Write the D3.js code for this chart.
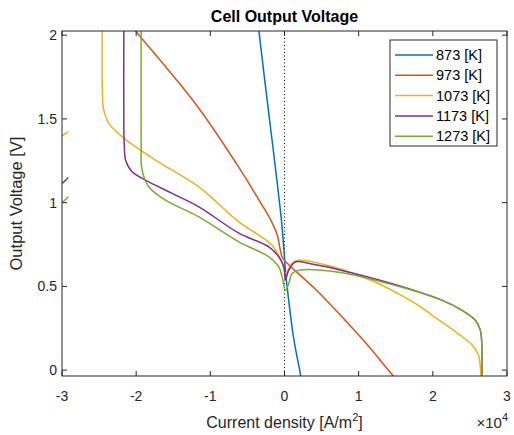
<!DOCTYPE html>
<html>
<head>
<meta charset="utf-8">
<script src="https://cdn.jsdelivr.net/npm/d3@7"></script>
<style>
  html, body { margin: 0; padding: 0; background: #fff; }
  svg { display: block; font-family: 'Liberation Sans', Arial, Helvetica, sans-serif; }
</style>
</head>
<body>
<div id="chart"></div>
<script>
// legend labels + MATLAB default line colours
const temps = ['873 [K]', '973 [K]', '1073 [K]', '1173 [K]', '1273 [K]']
const colors = ['#0072BD', '#D95319', '#EDB120', '#7E2F8E', '#77AC30']

// [current density A/m2, voltage V]
const c873 = [
  [-3600, 2.08], [-3460, 2.03], [-2500, 1.67], [-1500, 1.31], [-800, 1.05], [-400, 0.89],
  [-150, 0.76], [0, 0.67], [150, 0.58], [400, 0.48], [800, 0.33], [1200, 0.2],
  [1600, 0.1], [2050, 0], [2250, -0.06],
]
const c973 = [
  [-20600, 2.06], [-20080, 2.026], [-16000, 1.81], [-11550, 1.564], [-6000, 1.2], [-3500, 1.02],
  [-1850, 0.896], [-1000, 0.81], [-360, 0.68], [0, 0.655], [1660, 0.585], [4000, 0.49],
  [7300, 0.34], [11000, 0.16], [14700, -0.036], [15600, -0.08],
]
const c1073 = [
  [-24600, 2.06], [-24590, 1.9], [-24560, 1.67], [-24400, 1.56], [-23680, 1.473], [-21890, 1.393],
  [-17390, 1.254], [-11550, 1.094], [-6160, 0.885], [-1670, 0.746], [-320, 0.64], [130, 0.58],
  [1020, 0.637], [1930, 0.657], [4500, 0.64], [7320, 0.607], [10000, 0.565], [13000, 0.51],
  [16000, 0.44], [18100, 0.385], [20800, 0.3], [23500, 0.215], [25300, 0.15], [26150, 0.09],
  [26400, 0.02], [26500, -0.06],
]
const c1173 = [
  [-21660, 2.06], [-21660, 1.433], [-21590, 1.331], [-21430, 1.254], [-20540, 1.184], [-18290, 1.124],
  [-15150, 1.055], [-11550, 0.975], [-6160, 0.818], [-2120, 0.736], [-770, 0.677], [-90, 0.617],
  [130, 0.54], [580, 0.597], [1480, 0.647], [3500, 0.635], [7320, 0.6], [15000, 0.51],
  [21200, 0.418], [23900, 0.358], [25700, 0.299], [26400, 0.239], [26600, 0.159], [26630, 0],
  [26630, -0.06],
]
const c1273 = [
  [-19330, 2.06], [-19330, 1.313], [-19300, 1.224], [-18960, 1.154], [-18290, 1.094], [-16040, 1.015],
  [-11550, 0.915], [-6160, 0.766], [-2120, 0.677], [-770, 0.617], [-320, 0.557], [130, 0.475],
  [580, 0.518], [1020, 0.577], [1930, 0.597], [7320, 0.585], [15000, 0.505], [21200, 0.418],
  [23900, 0.358], [25700, 0.299], [26400, 0.239], [26600, 0.159], [26630, 0], [26630, -0.06],
]
// short second branches visible at the left edge
const b1073 = [[-30000, 1.4], [-29600, 1.41], [-29150, 1.425]]
const b1173 = [[-30000, 1.115], [-29600, 1.13], [-29150, 1.15]]
const b1273 = [[-30000, 1.0], [-29600, 1.016], [-29150, 1.035]]

const xTicks = [-30000, -20000, -10000, 0, 10000, 20000, 30000]
const yTicks = [0, 0.5, 1, 1.5, 2]

const series = [
  { pts: c873, color: colors[0] },
  { pts: c973, color: colors[1] },
  { pts: c1073, color: colors[2] },
  { pts: b1073, color: colors[2] },
  { pts: c1173, color: colors[3] },
  { pts: b1173, color: colors[3] },
  { pts: c1273, color: colors[4] },
  { pts: b1273, color: colors[4] },
]

const width = 514
const height = 435
const plot = { left: 62, right: 507, top: 31, bottom: 376 }
const axisColor = '#262626'

const x = d3.scaleLinear().domain([-30000, 30000]).range([plot.left, plot.right])
const y = d3.scaleLinear().domain([-0.035, 2.025]).range([plot.bottom, plot.top])

const svg = d3.select('#chart').append('svg')
  .attr('width', width)
  .attr('height', height)

svg.append('defs').append('clipPath').attr('id', 'clip')
  .append('rect')
  .attr('x', plot.left).attr('y', plot.top)
  .attr('width', plot.right - plot.left).attr('height', plot.bottom - plot.top)

const g = svg.append('g').attr('clip-path', 'url(#clip)')

// dotted zero-current line
g.append('line')
  .attr('x1', x(0)).attr('x2', x(0))
  .attr('y1', plot.top).attr('y2', plot.bottom)
  .attr('stroke', '#000')
  .attr('stroke-width', 1)
  .attr('stroke-dasharray', '1,2.5')

const line = d3.line()
  .x((d) => x(d[0]))
  .y((d) => y(d[1]))
  .curve(d3.curveCatmullRom.alpha(0.5))

g.selectAll('path.curve')
  .data(series)
  .join('path')
  .attr('class', 'curve')
  .attr('d', (s) => line(s.pts))
  .attr('fill', 'none')
  .attr('stroke', (s) => s.color)
  .attr('stroke-width', 1.5)

// axes box
svg.append('rect')
  .attr('x', plot.left).attr('y', plot.top)
  .attr('width', plot.right - plot.left).attr('height', plot.bottom - plot.top)
  .attr('fill', 'none')
  .attr('stroke', axisColor)
  .attr('stroke-width', 1)

const tickLen = 5
const ticks = svg.append('g').attr('stroke', axisColor).attr('stroke-width', 1)
xTicks.forEach((t) => {
  ticks.append('line').attr('x1', x(t)).attr('x2', x(t)).attr('y1', plot.bottom).attr('y2', plot.bottom - tickLen)
  ticks.append('line').attr('x1', x(t)).attr('x2', x(t)).attr('y1', plot.top).attr('y2', plot.top + tickLen)
})
yTicks.forEach((t) => {
  ticks.append('line').attr('x1', plot.left).attr('x2', plot.left + tickLen).attr('y1', y(t)).attr('y2', y(t))
  ticks.append('line').attr('x1', plot.right).attr('x2', plot.right - tickLen).attr('y1', y(t)).attr('y2', y(t))
})

svg.append('g')
  .attr('font-size', 14)
  .attr('fill', axisColor)
  .attr('text-anchor', 'middle')
  .selectAll('text')
  .data(xTicks)
  .join('text')
  .attr('x', (t) => x(t))
  .attr('y', 401)
  .text((t) => String(t / 10000))

svg.append('g')
  .attr('font-size', 14)
  .attr('fill', axisColor)
  .attr('text-anchor', 'end')
  .selectAll('text')
  .data(yTicks)
  .join('text')
  .attr('x', 57)
  .attr('y', (t) => y(t) + 5)
  .text((t) => String(t))

// title
svg.append('text')
  .attr('x', (plot.left + plot.right) / 2)
  .attr('y', 22)
  .attr('text-anchor', 'middle')
  .attr('font-size', 16)
  .attr('font-weight', 'bold')
  .attr('fill', '#000')
  .text('Cell Output Voltage')

// x label with superscript
const xl = svg.append('text')
  .attr('x', (plot.left + plot.right) / 2)
  .attr('y', 428)
  .attr('text-anchor', 'middle')
  .attr('font-size', 16)
  .attr('fill', axisColor)
xl.append('tspan').text('Current density [A/m')
xl.append('tspan').attr('font-size', 11).attr('dy', -7).text('2')
xl.append('tspan').attr('dy', 7).text(']')

// exponent label
const ex = svg.append('text')
  .attr('x', plot.right + 1)
  .attr('y', 428)
  .attr('text-anchor', 'end')
  .attr('font-size', 15)
  .attr('fill', axisColor)
ex.append('tspan').text('×10')
ex.append('tspan').attr('font-size', 11).attr('dy', -7).text('4')

// y label
svg.append('text')
  .attr('transform', `translate(22,${(plot.top + plot.bottom) / 2}) rotate(-90)`)
  .attr('text-anchor', 'middle')
  .attr('font-size', 16.5)
  .attr('fill', axisColor)
  .text('Output Voltage [V]')

// legend
const legend = svg.append('g')
legend.append('rect')
  .attr('x', 390).attr('y', 40)
  .attr('width', 107).attr('height', 106)
  .attr('fill', '#fff')
  .attr('stroke', axisColor)
  .attr('stroke-width', 1)

const rows = legend.selectAll('g.row')
  .data(temps)
  .join('g')
  .attr('class', 'row')
  .attr('transform', (d, i) => `translate(0,${55 + i * 20.3})`)
rows.append('line')
  .attr('x1', 395).attr('x2', 433)
  .attr('stroke', (d, i) => colors[i])
  .attr('stroke-width', 1.5)
rows.append('text')
  .attr('x', 436)
  .attr('y', 5)
  .attr('font-size', 14.5)
  .attr('fill', '#000')
  .text((d) => d)
</script>
</body>
</html>
